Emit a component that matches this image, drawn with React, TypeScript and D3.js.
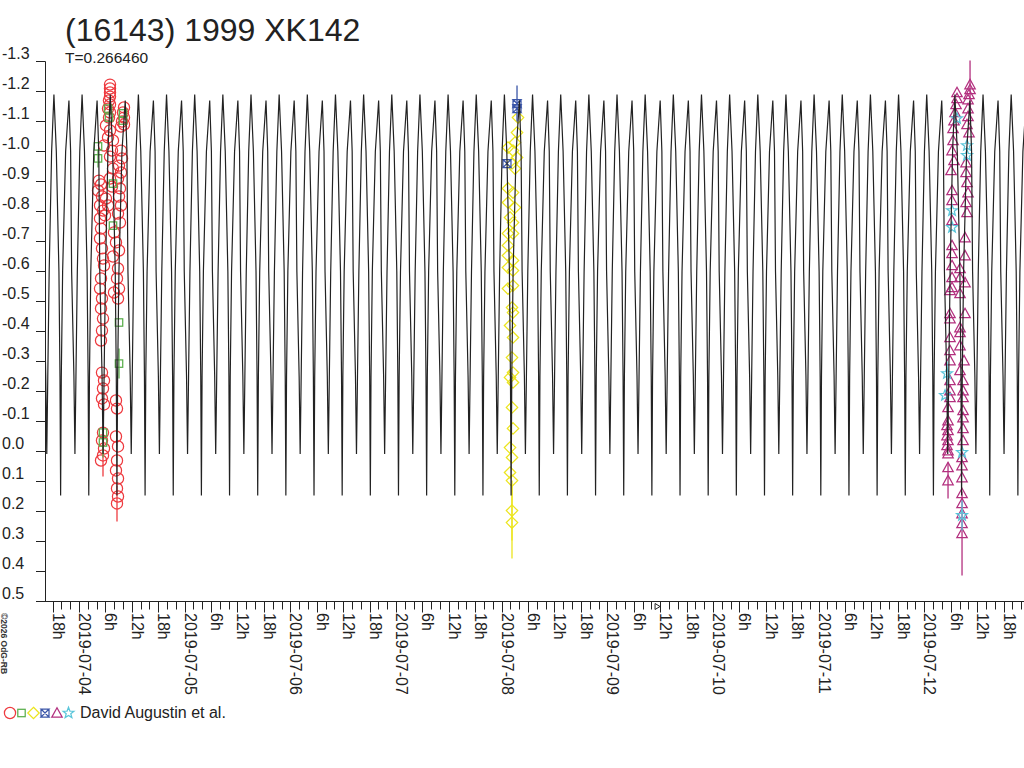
import React from "react";
import * as d3 from "d3";

// ---------- text ----------
const titleText = "(16143) 1999 XK142";
const periodText = "T=0.266460";
const legendText = "David Augustin et al.";
const copyrightText = "©2026 OdG-RB";

// ---------- model lightcurve ----------
const periodDays = 0.26646;
const baseDateIso = "2019-07-04T00:00:00Z"; // hours below are counted from here (UTC)
const epochHour = 51.86; // time of the primary maximum
// one rotation of the model curve
const profilePhase = [0, 0.085, 0.178, 0.215, 0.238, 0.262, 0.309, 0.416, 0.533, 0.593, 0.629, 0.71, 0.746, 0.782, 0.831, 0.918, 1];
const profileMag = [-1.19, -1.0, -0.6, -0.25, 0.147, -0.25, -0.6, -1.0, -1.17, -1.0, -0.6, -0.25, 0.008, -0.25, -0.6, -1.0, -1.19];

// ---------- axes ----------
const magTicks = [-1.3, -1.2, -1.1, -1.0, -0.9, -0.8, -0.7, -0.6, -0.5, -0.4, -0.3, -0.2, -0.1, 0.0, 0.1, 0.2, 0.3, 0.4, 0.5];
const markerHour = 131.3; // small marker on the time axis

// ---------- observations: [hours after 2019-07-04 0h UT, magnitude, error] ----------
const redObs: [number, number, number][] = [
  [7.04, -1.223, 0], [7.04, -1.21, 0], [7.04, -1.197, 0], [7.04, -1.183, 0], [6.81, -1.17, 0], [7.04, -1.157, 0], [6.59, -1.143, 0], [7.04, -1.13, 0], [6.81, -1.113, 0],
  [10.22, -1.147, 0], [9.99, -1.13, 0], [10.22, -1.113, 0], [9.77, -1.1, 0], [9.54, -1.083, 0], [10.22, -1.09, 0],
  [6.13, -1.087, 0], [7.04, -1.07, 0], [6.59, -1.047, 0], [5.68, -1.02, 0], [7.5, -1.003, 0], [7.04, -0.983, 0], [7.72, -1.037, 0],
  [9.54, -1.003, 0], [9.77, -0.977, 0], [9.09, -0.953, 0], [9.54, -0.93, 0], [8.86, -0.91, 0],
  [4.54, -0.903, 0], [5.0, -0.89, 0], [4.32, -0.87, 0], [5.22, -0.85, 0], [4.77, -0.82, 0], [5.45, -0.803, 0],
  [6.13, -0.843, 0], [6.59, -0.82, 0], [5.91, -0.787, 0], [7.5, -0.883, 0], [7.04, -0.91, 0], [7.72, -0.943, 0],
  [9.31, -0.877, 0], [9.09, -0.85, 0], [9.54, -0.82, 0], [8.86, -0.793, 0], [9.31, -0.763, 0],
  [4.77, -0.777, 0], [5.0, -0.743, 0], [4.77, -0.71, 0], [5.22, -0.677, 0], [5.45, -0.643, 0], [5.68, -0.62, 0],
  [7.95, -0.73, 0], [8.4, -0.697, 0], [9.09, -0.67, 0], [7.72, -0.65, 0],
  [5.0, -0.577, 0], [4.77, -0.543, 0], [5.22, -0.51, 0], [5.0, -0.477, 0], [5.45, -0.443, 0],
  [8.86, -0.61, 0], [8.63, -0.577, 0], [9.09, -0.543, 0], [8.86, -0.51, 0], [7.95, -0.53, 0],
  [5.22, -0.403, 0], [5.0, -0.37, 0],
  [5.22, -0.263, 0], [5.68, -0.237, 0], [5.45, -0.21, 0], [5.22, -0.177, 0], [5.68, -0.157, 0], [8.63, -0.143, 0], [8.4, -0.17, 0],
  [5.45, -0.063, 0], [5.22, -0.037, 0], [5.68, -0.01, 0], [5.45, 0.013, 0.07], [5.0, 0.03, 0],
  [8.4, -0.05, 0], [8.86, -0.017, 0], [8.63, 0.03, 0], [8.4, 0.063, 0], [8.86, 0.09, 0], [8.63, 0.123, 0], [8.86, 0.15, 0], [8.63, 0.173, 0.06],
];
const greenObs: [number, number, number][] = [
  [6.59, -1.143, 0], [6.81, -1.113, 0], [9.99, -1.127, 0], [9.99, -1.103, 0], [4.32, -1.017, 0], [4.32, -0.977, 0.03],
  [7.72, -0.893, 0], [7.72, -0.753, 0], [9.09, -0.43, 0], [9.09, -0.293, 0.05], [5.45, -0.063, 0], [5.45, -0.03, 0.05],
];
const yellowObs: [number, number, number][] = [
  [99.72, -1.113, 0], [99.49, -1.063, 0], [99.03, -1.03, 0], [97.44, -1.013, 0], [98.58, -1.003, 0], [99.49, -0.98, 0], [98.35, -0.96, 0], [99.03, -0.943, 0],
  [97.44, -0.877, 0], [98.58, -0.863, 0], [97.44, -0.83, 0], [99.03, -0.813, 0], [97.9, -0.78, 0], [98.58, -0.763, 0], [97.44, -0.727, 0], [98.58, -0.727, 0],
  [97.44, -0.687, 0], [97.44, -0.653, 0], [98.58, -0.637, 0], [97.44, -0.613, 0], [98.58, -0.603, 0], [98.58, -0.553, 0], [97.44, -0.543, 0],
  [98.35, -0.48, 0], [98.58, -0.463, 0], [97.9, -0.42, 0], [98.58, -0.38, 0], [98.35, -0.313, 0], [98.58, -0.263, 0], [97.9, -0.247, 0], [98.58, -0.23, 0],
  [98.35, -0.147, 0], [98.58, -0.077, 0], [97.9, -0.013, 0], [98.35, 0.02, 0], [97.9, 0.07, 0], [98.35, 0.097, 0], [98.35, 0.197, 0.1], [98.35, 0.237, 0.12],
];
const blueObs: [number, number, number][] = [
  [99.49, -1.16, 0.06], [99.49, -1.143, 0], [97.21, -0.96, 0],
];
const magentaObs: [number, number, number][] = [
  [202.39, -1.223, 0.08], [202.39, -1.207, 0], [202.16, -1.19, 0], [201.93, -1.173, 0],
  [199.43, -1.197, 0], [199.43, -1.177, 0], [199.21, -1.157, 0], [198.98, -1.13, 0], [198.75, -1.103, 0], [198.53, -1.077, 0],
  [201.93, -1.143, 0], [201.93, -1.117, 0], [201.7, -1.09, 0], [202.16, -1.063, 0],
  [198.53, -1.037, 0], [198.3, -1.003, 0], [198.75, -0.97, 0], [198.07, -0.937, 0],
  [201.48, -0.963, 0], [201.48, -0.93, 0], [201.7, -0.897, 0], [201.93, -0.863, 0], [201.48, -0.83, 0], [201.7, -0.797, 0],
  [198.3, -0.87, 0], [198.3, -0.837, 0], [198.3, -0.77, 0], [198.3, -0.687, 0], [198.3, -0.66, 0],
  [201.25, -0.713, 0], [201.25, -0.653, 0], [198.3, -0.62, 0], [200.11, -0.61, 0], [198.3, -0.58, 0], [198.3, -0.547, 0],
  [200.11, -0.58, 0], [201.25, -0.563, 0], [200.11, -0.527, 0], [197.84, -0.537, 0],
  [197.84, -0.46, 0], [201.25, -0.46, 0], [197.84, -0.443, 0], [200.11, -0.413, 0], [197.84, -0.38, 0], [200.11, -0.397, 0], [200.11, -0.353, 0],
  [197.84, -0.337, 0], [197.84, -0.303, 0], [201.02, -0.303, 0], [200.11, -0.27, 0],
  [197.84, -0.237, 0], [197.84, -0.203, 0], [197.84, -0.18, 0], [200.8, -0.237, 0], [200.8, -0.203, 0], [200.8, -0.18, 0],
  [197.39, -0.147, 0], [200.8, -0.137, 0],
  [197.39, -0.103, 0], [197.16, -0.087, 0], [197.39, -0.07, 0], [197.16, -0.053, 0], [197.39, -0.037, 0], [197.16, -0.02, 0], [197.39, -0.003, 0], [197.39, 0.007, 0],
  [200.8, -0.113, 0], [200.8, -0.077, 0], [200.8, -0.037, 0],
  [200.57, 0.02, 0], [200.57, 0.047, 0], [200.57, 0.087, 0], [197.39, 0.053, 0], [197.39, 0.097, 0.06],
  [200.57, 0.14, 0], [200.57, 0.173, 0], [200.57, 0.207, 0], [200.57, 0.24, 0], [200.57, 0.273, 0.14],
];
const cyanObs: [number, number, number][] = [
  [199.43, -1.11, 0], [201.7, -1.02, 0], [201.7, -0.987, 0], [198.3, -0.803, 0], [198.3, -0.747, 0],
  [197.16, -0.26, 0.04], [196.71, -0.187, 0], [200.57, 0.003, 0], [200.57, 0.213, 0.05],
];

type Kind = "circle" | "square" | "diamond" | "bowtie" | "triangle" | "star";
const seriesList: { obs: [number, number, number][]; kind: Kind; color: string }[] = [
  { obs: redObs, kind: "circle", color: "#ee3a3f" },
  { obs: greenObs, kind: "square", color: "#5aae4c" },
  { obs: yellowObs, kind: "diamond", color: "#ece51e" },
  { obs: blueObs, kind: "bowtie", color: "#3a55a8" },
  { obs: magentaObs, kind: "triangle", color: "#b3307f" },
  { obs: cyanObs, kind: "star", color: "#5cc6da" },
];

const FONT = "'Liberation Sans', Arial, Helvetica, sans-serif";
const INK = "#222";

function starPath(cx: number, cy: number, R: number, r: number) {
  let d = "";
  for (let i = 0; i < 10; i++) {
    const a = -Math.PI / 2 + (i * Math.PI) / 5;
    const rr = i % 2 === 0 ? R : r;
    d += (i ? "L" : "M") + (cx + rr * Math.cos(a)).toFixed(2) + "," + (cy + rr * Math.sin(a)).toFixed(2);
  }
  return d + "Z";
}

function Marker({ kind, cx, cy, color }: { kind: Kind; cx: number; cy: number; color: string }) {
  const common = { fill: "none", stroke: color, strokeWidth: 1.25 };
  switch (kind) {
    case "circle":
      return <circle cx={cx} cy={cy} r={5.6} {...common} />;
    case "square":
      return <rect x={cx - 3.7} y={cy - 3.7} width={7.4} height={7.4} {...common} />;
    case "diamond":
      return <path d={`M${cx},${cy - 5.7}L${cx + 5.7},${cy}L${cx},${cy + 5.7}L${cx - 5.7},${cy}Z`} {...common} />;
    case "bowtie":
      return (
        <path
          d={`M${cx - 4},${cy - 4}L${cx + 4},${cy - 4}L${cx - 4},${cy + 4}L${cx + 4},${cy + 4}ZM${cx - 4},${cy - 4}L${cx - 4},${cy + 4}M${cx + 4},${cy - 4}L${cx + 4},${cy + 4}`}
          {...common}
        />
      );
    case "triangle":
      return <path d={`M${cx},${cy - 5.2}L${cx + 5.2},${cy + 4.2}L${cx - 5.2},${cy + 4.2}Z`} {...common} />;
    case "star":
      return <path d={starPath(cx, cy, 5.7, 2.4)} {...common} />;
  }
}

export default function App() {
  const W = 1024;
  const H = 768;
  const x = d3.scaleLinear().domain([0, 192]).range([79, 924.3]);
  const y = d3.scaleLinear().domain([-1.3, 0.5]).range([61.5, 601.5]);
  const axisX = 45.5;
  const axisY = y(0.5);
  const hMin = x.invert(axisX);
  const hMax = x.invert(W);

  // model curve: the read profile repeated with the period T
  const P = periodDays * 24;
  const kStart = Math.floor((hMin - epochHour) / P) - 1;
  const kEnd = Math.ceil((hMax - epochHour) / P) + 1;
  const modelPts: [number, number][] = [];
  for (let k = kStart; k <= kEnd; k++) {
    for (let i = 0; i < profilePhase.length - 1; i++) {
      modelPts.push([epochHour + (k + profilePhase[i]) * P, profileMag[i]]);
    }
  }
  const line = d3
    .line<[number, number]>()
    .x((d) => x(d[0]))
    .y((d) => y(d[1]));

  // time ticks every 2 h
  const baseMs = Date.parse(baseDateIso);
  const fmtDate = d3.utcFormat("%Y-%m-%d");
  const hourTicks = d3.range(Math.ceil(hMin / 2) * 2, hMax, 2);

  const legendX = [10, 21.5, 33.5, 45, 57, 68.5];

  return (
    <svg
      width={W}
      height={H}
      viewBox={`0 0 ${W} ${H}`}
      style={{ position: "absolute", left: 0, top: 0, background: "#fff" }}
      fontFamily={FONT}
    >
      <defs>
        <clipPath id="plotClip">
          <rect x={axisX + 0.5} y={0} width={W - axisX} height={axisY} />
        </clipPath>
      </defs>
      <rect x={0} y={0} width={W} height={H} fill="#fff" />

      {/* title */}
      <text x={65} y={41} fontSize={32} fill={INK}>
        {titleText}
      </text>
      <text x={65} y={63} fontSize={15.5} fill={INK}>
        {periodText}
      </text>

      {/* y axis */}
      <line x1={axisX} x2={axisX} y1={y(-1.3)} y2={axisY} stroke={INK} strokeWidth={1} />
      {magTicks.map((v) => (
        <g key={"m" + v}>
          <line x1={36} x2={axisX} y1={y(v)} y2={y(v)} stroke={INK} strokeWidth={1} />
          <text x={2} y={y(v) - 3} fontSize={16} fill={INK}>
            {Math.abs(v) < 1e-9 ? "0.0" : v.toFixed(1)}
          </text>
        </g>
      ))}

      {/* x axis */}
      <line x1={36} x2={W} y1={axisY} y2={axisY} stroke={INK} strokeWidth={1} />
      {hourTicks.map((h) => {
        const tx = Math.round(x(h)) + 0.5;
        const hod = ((h % 24) + 24) % 24;
        const labeled = hod % 6 === 0;
        const label = hod === 0 ? fmtDate(new Date(baseMs + h * 3600e3)) : `${hod}h`;
        return (
          <g key={"h" + h}>
            <line x1={tx} x2={tx} y1={axisY} y2={axisY + (labeled ? 11 : 8)} stroke={INK} strokeWidth={1} />
            {labeled && (
              <text transform={`translate(${tx - 0.5},613) rotate(90)`} fontSize={16} fill={INK}>
                {label}
              </text>
            )}
          </g>
        );
      })}
      <path
        d={`M${x(markerHour) - 2},${axisY + 2}L${x(markerHour) + 3},${axisY + 5}L${x(markerHour) - 2},${axisY + 8}Z`}
        fill="none"
        stroke={INK}
        strokeWidth={1}
      />

      {/* observations */}
      <g clipPath="url(#plotClip)">
        {seriesList.map((s, si) => (
          <g key={"s" + si}>
            {s.obs.map((o, i) =>
              o[2] > 0 ? (
                <line
                  key={"e" + i}
                  x1={x(o[0])}
                  x2={x(o[0])}
                  y1={y(o[1] - o[2])}
                  y2={y(o[1] + o[2])}
                  stroke={s.color}
                  strokeWidth={1.3}
                />
              ) : null
            )}
            {s.obs.map((o, i) => (
              <Marker key={"p" + i} kind={s.kind} cx={x(o[0])} cy={y(o[1])} color={s.color} />
            ))}
          </g>
        ))}
        {/* model lightcurve */}
        <path d={line(modelPts) || ""} fill="none" stroke={INK} strokeWidth={1.2} strokeLinejoin="miter" />
      </g>

      {/* legend */}
      {seriesList.map((s, i) => (
        <Marker key={"l" + i} kind={s.kind} cx={legendX[i]} cy={713} color={s.color} />
      ))}
      <text x={80} y={718} fontSize={16} fill={INK}>
        {legendText}
      </text>

      {/* copyright */}
      <text transform="translate(1,613) rotate(90)" fontSize={8.5} fontWeight="bold" fill="#333">
        {copyrightText}
      </text>
    </svg>
  );
}
